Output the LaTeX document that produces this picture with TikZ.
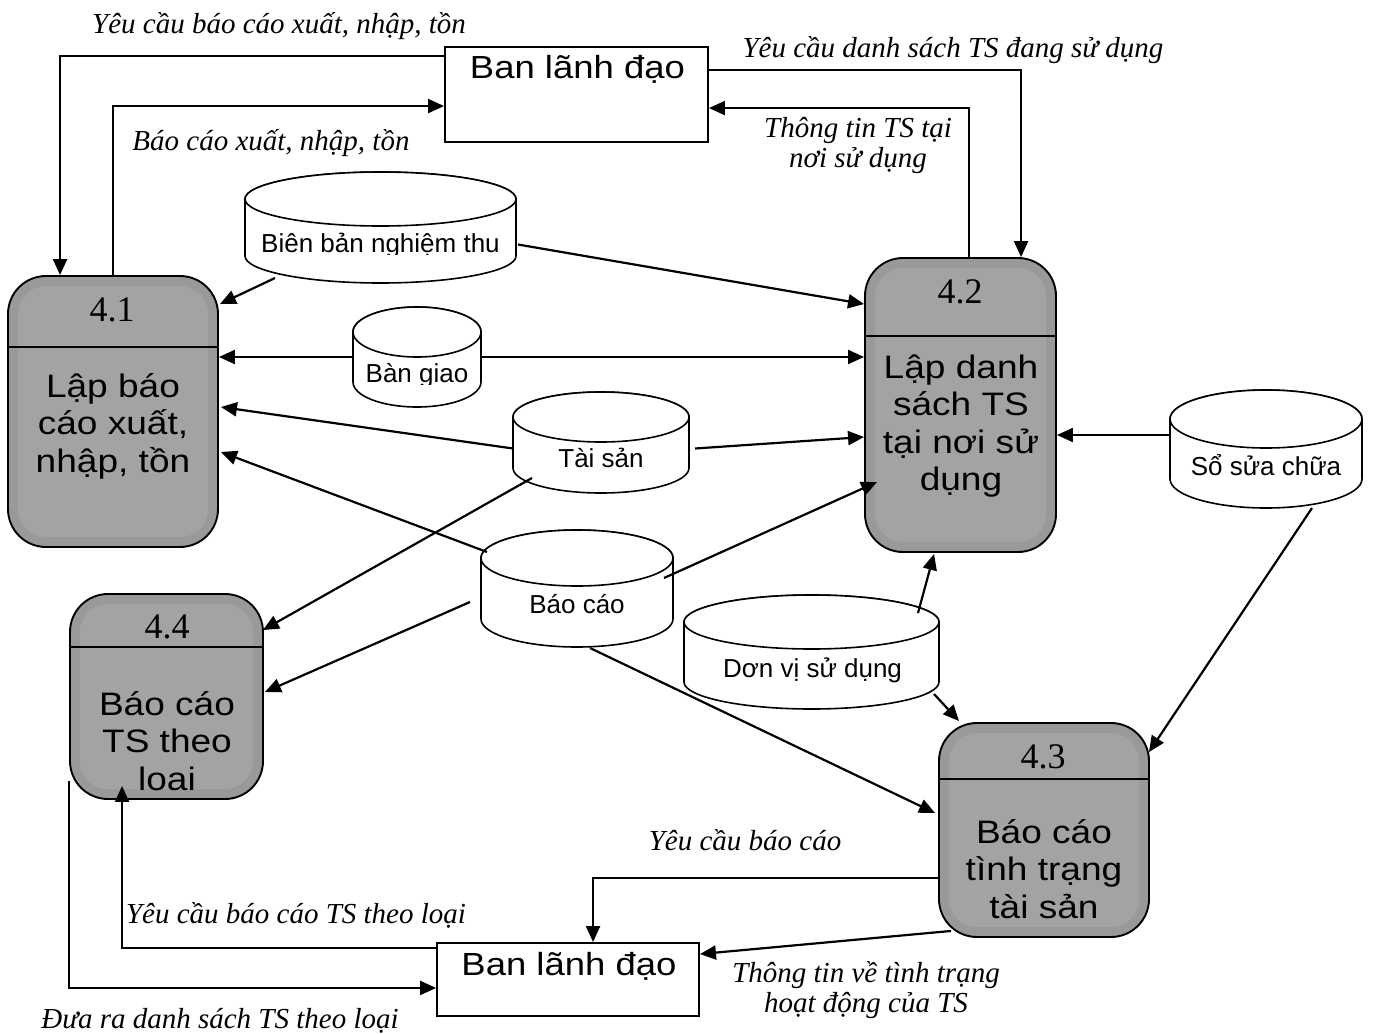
\documentclass[tikz,border=0pt]{standalone}
\usepackage{fontspec}
\setmainfont{Liberation Serif}
\newfontfamily\dfdsans{Liberation Sans}
\newfontfamily\dfdwide[FakeStretch=1.14]{Liberation Sans}
\usetikzlibrary{arrows.meta,calc}

\definecolor{procouter}{HTML}{999999}
\definecolor{procinner}{HTML}{A3A3A3}

% centred lines whose baseline is the baseline of the first line
\newcommand\stackc[1]{\begin{tabular}[t]{@{}c@{}}#1\end{tabular}}

% data store drawn as a cylinder: name, left, top, right, bottom, half height of the end caps
\newcommand\datastore[6]{%
  \pgfmathsetmacro\dsx{(#2+#4)/2}%
  \pgfmathsetmacro\dsy{(#3+#5)/2}%
  \pgfmathsetmacro\dsrx{(#4-#2)/2}%
  \pgfmathsetmacro\dsw{#4-#2}%
  \pgfmathsetmacro\dsh{#5-#3}%
  \node[storebox, minimum width=\dsw pt, minimum height=\dsh pt] (#1) at (\dsx,\dsy) {};
  \filldraw[storeline] (#2,#3+#6) -- (#2,#5-#6)
     arc[start angle=180, end angle=0, x radius=\dsrx, y radius=#6]
     -- (#4,#3+#6)
     arc[start angle=0, end angle=-180, x radius=\dsrx, y radius=#6] -- cycle;
  \draw[storeline] (\dsx,#3+#6) ellipse[x radius=\dsrx, y radius=#6];
}

\begin{document}
\begin{tikzpicture}[x=1pt,y=-1pt,
  proc/.style={draw=black, line width=1.9pt, fill=procouter, rounded corners=38pt, inner sep=0pt,
    path picture={\fill[procinner, rounded corners=28pt]
      ($(path picture bounding box.south west)+(10pt,10pt)$) rectangle
      ($(path picture bounding box.north east)+(-10pt,-10pt)$);}},
  divider/.style={line width=1.6pt},
  procnum/.style={anchor=base, inner sep=0pt, font=\fontsize{36}{40}\selectfont},
  proctext/.style={anchor=base, inner sep=0pt, font=\dfdwide\fontsize{32.5}{37.5}\selectfont},
  ent/.style={draw=black, line width=1.9pt, fill=white, inner sep=0pt},
  enttext/.style={anchor=base, inner sep=0pt, font=\dfdwide\fontsize{32}{36}\selectfont},
  storebox/.style={draw=none, inner sep=0pt, outer sep=0pt, rectangle},
  storeline/.style={draw=black, fill=white, line width=1.6pt},
  storetext/.style={anchor=base, inner sep=0pt, font=\dfdsans\fontsize{26}{30}\selectfont},
  flowlabel/.style={anchor=base, inner sep=0pt, font=\itshape\fontsize{29}{30.5}\selectfont},
  flow/.style={line width=2.2pt, -{Triangle[length=16pt,width=14pt]}},
]
\useasboundingbox (0,0) rectangle (1377,1034);
\fill[white] (0,0) rectangle (1377,1034);

% ---------- external entities ----------
\node[ent, minimum width=263pt, minimum height=95pt] (top) at (576.5,94.5) {};
\node[enttext] (top-t) at (577.5,78) {Ban lãnh đạo};

\node[ent, minimum width=262pt, minimum height=73pt] (bot) at (568,979.5) {};
\node[enttext] (bot-t) at (569,975) {Ban lãnh đạo};

% ---------- processes ----------
\node[proc, minimum width=210pt, minimum height=271pt] (p41) at (113,411.5) {};
\draw[divider] ($(p41.north west)+(0,72)$) -- ($(p41.north east)+(0,72)$);
\node[procnum] (p41-n) at (112,321) {4.1};
\node[proctext] (p41-t) at (113,397) {\stackc{Lập báo\\cáo xuất,\\nhập, tồn}};

\node[proc, minimum width=191pt, minimum height=294pt] (p42) at (960.5,405) {};
\draw[divider] ($(p42.north west)+(0,79)$) -- ($(p42.north east)+(0,79)$);
\node[procnum] (p42-n) at (960,303) {4.2};
\node[proctext] (p42-t) at (961,378) {\stackc{Lập danh\\sách TS\\tại nơi sử\\dụng}};

\node[proc, minimum width=210pt, minimum height=214pt] (p43) at (1044,830) {};
\draw[divider] ($(p43.north west)+(0,57)$) -- ($(p43.north east)+(0,57)$);
\node[procnum] (p43-n) at (1043,768) {4.3};
\node[proctext] (p43-t) at (1044,843) {\stackc{Báo cáo\\tình trạng\\tài sản}};

\node[proc, minimum width=193pt, minimum height=205pt] (p44) at (166.5,696.5) {};
\draw[divider] ($(p44.north west)+(0,54)$) -- ($(p44.north east)+(0,54)$);
\node[procnum] (p44-n) at (167,638) {4.4};
\begin{scope}
  \clip (70,594) rectangle (263,791);
  \node[proctext] (p44-t) at (167,715) {\stackc{Báo cáo\\TS theo\\loại}};
\end{scope}

% ---------- data stores ----------
\datastore{bbnt}{245}{172}{516}{283}{27}
\begin{scope}
  \clip (245,172) rectangle (516,254.5);
  \node[storetext] (bbnt-t) at (380.5,252) {Biên bản nghiệm thu};
\end{scope}

\datastore{bgiao}{353}{307}{481}{407}{25}
\begin{scope}
  \clip (353,307) rectangle (481,384);
  \node[storetext] (bgiao-t) at (417,382) {Bàn giao};
\end{scope}

\datastore{tai}{513}{392}{689}{493}{25}
\node[storetext] (tai-t) at (601,467) {Tài sản};

\datastore{bc}{481}{530}{673}{647}{28}
\node[storetext] (bc-t) at (577,613) {Báo cáo};

\datastore{dv}{684}{595}{939}{709}{27}
\node[storetext] (dv-t) at (812.5,677) {Dơn vị sử dụng};

\datastore{sso}{1170}{390}{1362}{508}{29}
\node[storetext] (sso-t) at (1266,475) {Sổ sửa chữa};

% ---------- data flows ----------
\draw[flow] ($(top.north west)+(0,10)$) -| ($(p41.north west)+(53,0)$);
\draw[flow] ($(p41.north west)+(106,0)$) |- ($(top.north west)+(0,60)$);
\draw[flow] ($(top.north east)+(0,24)$) -| ($(p42.north west)+(157,0)$);
\draw[flow] ($(p42.north west)+(105,0)$) |- ($(top.north east)+(0,62)$);

\draw[flow] ($(bbnt.south west)+(30,-5)$) -- ($(p41.north east)+(1,29)$);
\draw[flow] ($(bbnt.east)+(2,17)$) -- ($(p42.north west)+(0,47)$);

\draw[flow] (bgiao.west) -- (bgiao.west -| p41.east);
\draw[flow] (bgiao.east) -- (bgiao.east -| p42.west);

\draw[flow] ($(tai.west)+(0,6)$) -- ($(p41.east)+(2,-4.5)$);
\draw[flow] ($(tai.east)+(6,6)$) -- ($(p42.west)+(0,32)$);
\draw[flow] ($(tai.south west)+(19,-15)$) -- ($(p44.north east)+(-1,37)$);

\draw[flow] ($(bc.north west)+(6,22)$) -- ($(p41.east)+(2,40.5)$);
\draw[flow] ($(bc.west)+(-11,13.5)$) -- ($(p44.east)+(1,-4.5)$);
\draw[flow] ($(bc.east)+(-9,-10.5)$) -- ($(p42.west)+(13,77)$);
\draw[flow] ($(bc.south)+(13,1)$) -- ($(p43.west)+(-3,-17)$);

\draw[flow] ($(dv.north east)+(-21,18)$) -- ($(p42.south west)+(70,1)$);
\draw[flow] ($(dv.east)+(-5,42)$) -- ($(p43.north west)+(21,-1)$);

\draw[flow] ($(sso.west)+(0,-14)$) coordinate (s1) -- (s1 -| p42.east);
\draw[flow] ($(sso.south)+(46,0)$) -- ($(p43.north east)+(-1,30)$);

\draw[flow] ($(p43.west)+(0,48)$) -| ($(bot.north west)+(157,0)$);
\draw[flow] ($(p43.south west)+(13,-7)$) -- ($(bot.north east)+(0,12)$);

\draw[flow] ($(bot.north west)+(0,6)$) -| ($(p44.south west)+(53,-14)$);
\draw[flow] ($(p44.south west)+(0,-19)$) |- ($(bot.south west)+(0,-29)$);

% ---------- flow labels ----------
\node[flowlabel] (l-yc1) at (279,33) {Yêu cầu báo cáo xuất, nhập, tồn};
\node[flowlabel] (l-bc1) at (271,150) {Báo cáo xuất, nhập, tồn};
\node[flowlabel] (l-yc2) at (953,57) {Yêu cầu danh sách TS đang sử dụng};
\node[flowlabel] (l-tt2) at (858,137) {\stackc{Thông tin TS tại\\nơi sử dụng}};
\node[flowlabel] (l-yc3) at (745,850) {Yêu cầu báo cáo};
\node[flowlabel] (l-tt3) at (866,982) {\stackc{Thông tin về tình trạng\\hoạt động của TS}};
\node[flowlabel] (l-yc4) at (296,923) {Yêu cầu báo cáo TS theo loại};
\node[flowlabel] (l-dr4) at (220,1028) {Đưa ra danh sách TS theo loại};
\end{tikzpicture}
\end{document}
